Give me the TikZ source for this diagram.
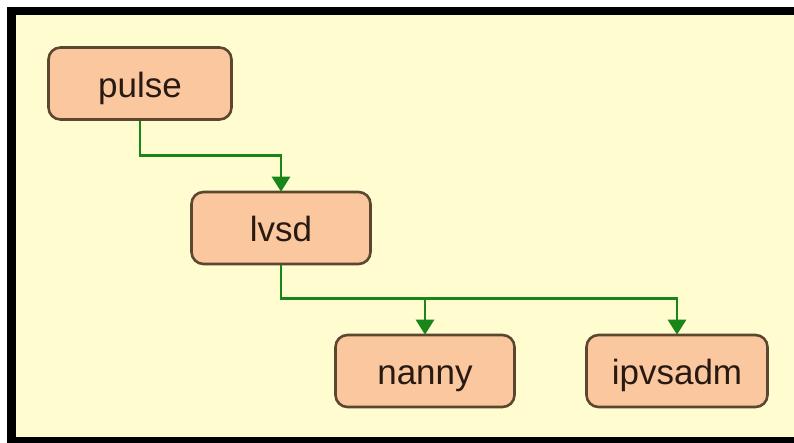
\documentclass[tikz,border=0pt]{standalone}
\usepackage{fontspec}
\setmainfont{Liberation Sans}
\usetikzlibrary{arrows.meta}
\definecolor{bgyellow}{RGB}{255,252,208}
\definecolor{peach}{RGB}{250,199,158}
\definecolor{boxborder}{RGB}{92,70,48}
\definecolor{linkgreen}{RGB}{24,134,24}
\definecolor{txt}{RGB}{40,26,18}
\tikzset{
  x=1pt,y=1pt,
  procbox/.style={draw=boxborder, fill=peach, line width=2.6pt, rounded corners=12pt,
    minimum height=72pt, text=txt, font=\fontsize{35}{40}\selectfont, inner sep=0pt,
    text height=28pt, text depth=0pt},
  link/.style={draw=linkgreen, line width=2.8pt},
  linkarrow/.style={link, -{Triangle[length=15pt,width=18pt]}, shorten >=-1pt}
}
\begin{document}
\begin{tikzpicture}
\useasboundingbox (0,0) rectangle (794,443);
\fill[white] (0,0) rectangle (794,443);
\fill[black] (7,0) rectangle (794,436);
\fill[bgyellow] (16,6) rectangle (794,428);
\node[procbox, minimum width=183pt] (pulse) at (140,359.5) {pulse};
\node[procbox, minimum width=179pt] (lvsd) at (281,215) {lvsd};
\node[procbox, minimum width=179pt] (nanny) at (425,72) {nanny};
\node[procbox, minimum width=181pt] (ipvsadm) at (677,72) {ipvsadm};
\draw[linkarrow] (pulse.south) -- ++(0,-35) -| (lvsd.north);
\draw[linkarrow] (lvsd.south) -- ++(0,-33) coordinate (junction) -| (ipvsadm.north);
\draw[linkarrow] (junction -| nanny.north) -- (nanny.north);
\end{tikzpicture}
\end{document}
